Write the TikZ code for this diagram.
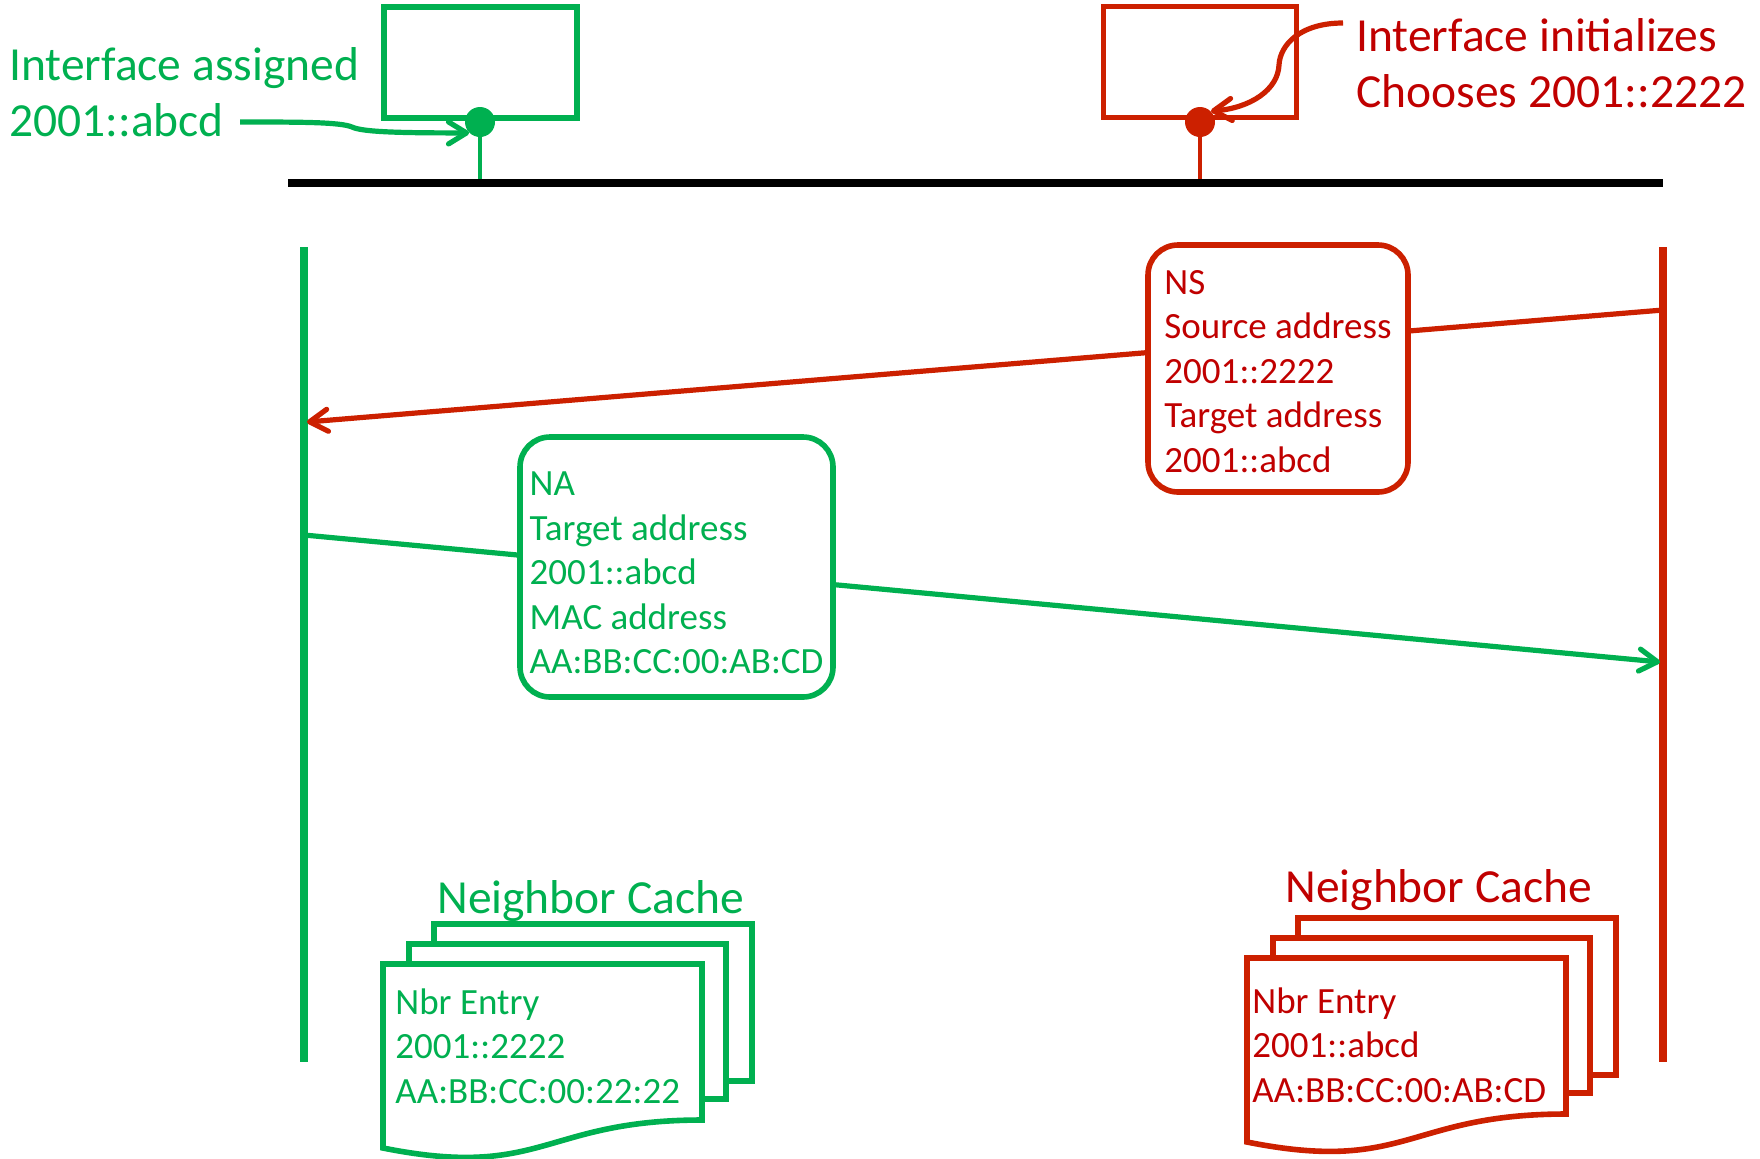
\documentclass[tikz,border=0pt]{standalone}
\usepackage{fontspec}
\setmainfont{Carlito}
\usetikzlibrary{positioning}
\usetikzlibrary{arrows.meta}

\definecolor{ndgreen}{RGB}{0,176,80}
\definecolor{ndred}{RGB}{204,32,0}
\definecolor{ndtext}{RGB}{192,0,0}
\newcommand{\labelsize}{\fontsize{23.75}{28}\selectfont}
\newcommand{\msgsize}{\fontsize{18.5}{22.25}\selectfont}

\begin{document}
\begin{tikzpicture}[x=0.5pt, y=-0.5pt,
	barb/.style={-{Straight Barb[length=9pt,width=11pt,round]}},
	host/.style={draw, line width=2.6pt, minimum width=96.5pt, minimum height=55.5pt, inner sep=0pt},
	port/.style={circle, inner sep=0pt, minimum size=15pt},
	lifeline/.style={line width=3.8pt},
	msgbox/.style={fill=white, line width=2.8pt, rounded corners=15pt, align=left, inner sep=0pt, font=\msgsize},
	txt/.style={inner sep=0pt, align=left}]
	\useasboundingbox (0,0) rectangle (1760,1158);

	% hosts on the link
	\coordinate (busL) at (288,183);
	\coordinate (busR) at (1663,183);
	\node[host, ndgreen] (gbox) at (480.5,62.5) {};
	\node[host, ndred] (rbox) at (1200,62) {};
	\draw[ndgreen, line width=2pt] (480,122) -- (480,183);
	\draw[ndred, line width=2pt] (1200,122) -- (1200,183);
	\draw[line width=4pt] (busL) -- (busR);
	\node[port, fill=ndgreen] (gdot) at (480,122) {};
	\node[port, fill=ndred] (rdot) at (1200,122) {};

	\node[txt, anchor=north west, font=\labelsize, text=ndgreen] (glabel) at (9,47) {Interface assigned\\2001::abcd};
	\node[txt, anchor=north west, font=\labelsize, text=ndtext] (rlabel) at (1356,18) {Interface initializes\\Chooses 2001::2222};
	\coordinate (gptr) at (240,122);
	\coordinate (rptr) at (1343,23);
	\draw[barb, ndgreen, line width=2.6pt] (gptr) .. controls (300,122) and (340,122) .. (352,127) .. controls (362,132) and (400,133) .. (gdot.225);
	\draw[barb, ndred, line width=2.6pt] (rptr) .. controls (1300,23) and (1280,45) .. (1279,65) .. controls (1278,90) and (1250,108) .. (rdot.45);

	% lifelines and messages
	\coordinate (gtop) at (304,247);
	\coordinate (gbot) at (304,1062);
	\coordinate (rtop) at (1663,247);
	\coordinate (rbot) at (1663,1062);
	\draw[lifeline, ndgreen] (gtop) -- (gbot);
	\draw[lifeline, ndred] (rtop) -- (rbot);
	\coordinate (nsfrom) at (1663,310);
	\coordinate (nsto) at (307,422);
	\coordinate (nafrom) at (304,535);
	\coordinate (nato) at (1660,662);
	\draw[barb, ndred, line width=2.6pt] (nsfrom) -- (nsto);
	\draw[barb, ndgreen, line width=2.6pt] (nafrom) -- (nato);

	\node[msgbox, draw=ndred, text=ndtext, minimum width=130pt, minimum height=123.5pt] (ns) at (1278,368.5)
		{\rule{0pt}{15pt}NS\\Source address\\2001::2222\\Target address\\2001::abcd};
	\node[msgbox, draw=ndgreen, text=ndgreen, minimum width=156.5pt, minimum height=130pt] (na) at (676.5,567)
		{\rule{0pt}{18pt}NA\\Target address\\2001::abcd\\MAC address\\AA:BB:CC:00:AB:CD};

	% neighbor caches
	\foreach \x/\y/\col in {383/964/ndgreen, 1247/958/ndred} {
		\begin{scope}[shift={(\x,\y)}, draw=\col, line width=2.8pt]
			\filldraw[fill=white] (51,-40) rectangle (369,117);
			\filldraw[fill=white] (26,-20) rectangle (343,135);
			\filldraw[fill=white] (0,0) -- (319,0) -- (319,156) .. controls (160,156) and (160,216) .. (0,184) -- cycle;
		\end{scope}
	}
	\node[txt, anchor=base west, font=\labelsize, text=ndgreen] (gcache) at (437,913) {Neighbor Cache};
	\node[txt, anchor=base west, font=\labelsize, text=ndtext] (rcache) at (1285,902) {Neighbor Cache};
	\node[txt, anchor=north west, font=\msgsize, text=ndgreen] (gentry) at (395,988) {Nbr Entry\\2001::2222\\AA:BB:CC:00:22:22};
	\node[txt, anchor=north west, font=\msgsize, text=ndtext] (rentry) at (1252,987) {Nbr Entry\\2001::abcd\\AA:BB:CC:00:AB:CD};
\end{tikzpicture}
\end{document}
